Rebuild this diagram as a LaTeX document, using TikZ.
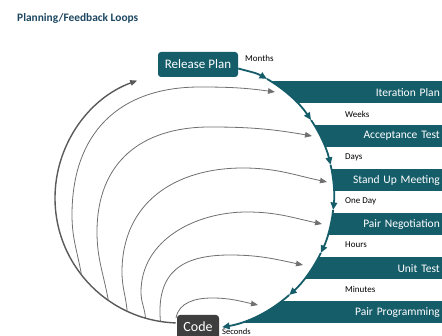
\documentclass[tikz,border=0pt]{standalone}
\usepackage{fontspec}
\setmainfont{Carlito}
\usetikzlibrary{arrows.meta,calc}
\definecolor{tealbar}{RGB}{22,93,106}
\definecolor{titleblue}{RGB}{30,72,98}
\definecolor{loopgray}{RGB}{112,112,112}
\definecolor{codegray}{RGB}{62,62,62}

\begin{document}
\begin{tikzpicture}[x=1pt,y=1pt,
  bar/.style={fill=tealbar, draw=none, text=white, anchor=north east,
    minimum width=242, minimum height=22, text width=238, align=right,
    inner xsep=2, inner ysep=0, font=\fontsize{11.5}{12}\selectfont},
  timetext/.style={anchor=west, inner sep=0pt, font=\fontsize{9}{10}\selectfont},
  loop/.style={draw=loopgray, line width=0.8pt, -{Triangle[length=7pt,width=5.5pt]}},
  outerloop/.style={loop, draw=loopgray!80!black, line width=1.4pt},
  flow/.style={draw=tealbar, line width=1.8pt, -{Triangle[length=7.5pt,width=6.5pt]}},
  stagebox/.style={rounded corners=3pt, text=white, inner sep=0pt},
]
\useasboundingbox (0,0) rectangle (442,-336);
\fill[white] (0,0) rectangle (442,-336);

% title
\node[anchor=base west, inner sep=0pt, text=titleblue,
      font=\bfseries\fontsize{11.4}{12}\selectfont] (title) at (17,-22) {Planning/Feedback Loops};

% stage bars on the right
\node[bar] (iter) at (442,-81)  {Iteration Plan};
\node[bar] (acc)  at (442,-125) {Acceptance Test};
\node[bar] (sum)  at (442,-169) {Stand Up Meeting};
\node[bar] (neg)  at (442,-213) {Pair Negotiation};
\node[bar] (unit) at (442,-257) {Unit Test};
\node[bar] (prog) at (442,-301) {Pair Programming};

% the round area that cuts the bars
\coordinate (c) at (200,-195);
\fill[white] (c) circle[radius=134];

% time scale labels
\node[timetext] (months)  at (245,-58)  {Months};
\node[timetext] (weeks)   at (345,-114) {Weeks};
\node[timetext] (days)    at (345,-157) {Days};
\node[timetext] (oneday)  at (345,-201) {One Day};
\node[timetext] (hours)   at (345,-245) {Hours};
\node[timetext] (minutes) at (345,-289) {Minutes};
\node[timetext, font=\fontsize{8.5}{9}\selectfont] (seconds) at (222,-331.5) {Seconds};

% feedback loops: one outer circle arc, inner loops branch off it
\coordinate (oc) at (180,-198);
\coordinate (s0) at ($(oc)+(-92:125)$);
\coordinate (b2) at ($(oc)+(-142:125)$);
\coordinate (b3) at ($(oc)+(-125:125)$);
\coordinate (b4) at ($(oc)+(-115:125)$);
\coordinate (b5) at ($(oc)+(-106:125)$);
\coordinate (b6) at ($(oc)+(-99:125)$);
\coordinate (e2) at (275,-92);
\coordinate (e3) at (312,-136);
\coordinate (e4) at (327,-182);
\coordinate (e5) at (322,-224);
\coordinate (e6) at (303,-265);
\coordinate (e7) at (258,-305);
\coordinate (c7) at (176,-318);

\draw[outerloop] (s0) arc[start angle=-92, end angle=-250, radius=125];
\draw[loop] (b2) to[out=100,in=270] (72,-215)
  to[out=90,in=180,looseness=1.15] (200,-87) to[out=0,in=172] (e2);
\draw[loop] (b3) to[out=100,in=270] (97,-232)
  to[out=90,in=180,looseness=1.15] (210,-127) to[out=0,in=170] (e3);
\draw[loop] (b4) to[out=95,in=270] (122,-272)
  to[out=90,in=180,looseness=1.1] (243,-168) to[out=0,in=168] (e4);
\draw[loop] (b5) to[out=95,in=270] (141,-292)
  to[out=90,in=180] (247,-212) to[out=0,in=168] (e5);
\draw[loop] (b6) to[out=95,in=180,looseness=1.3] (230,-255)
  to[out=0,in=168] (e6);
\draw[loop] (c7) to[out=80,in=180] (212,-298) to[out=0,in=168] (e7);

% boxes
\node[stagebox, fill=tealbar, minimum width=80, minimum height=25,
      font=\fontsize{13}{14}\selectfont] (rp) at (198,-64.5) {Release Plan};
\node[stagebox, fill=codegray, minimum width=42, minimum height=24,
      font=\fontsize{14}{15}\selectfont] (code) at (198,-327) {Code};

% planning flow along the rim
\coordinate (t1) at ($(c)+(60:134)$);
\coordinate (t2) at ($(c)+(34:134)$);
\coordinate (t3) at ($(c)+(13:134)$);
\coordinate (t4) at ($(c)+(-6.4:134)$);
\coordinate (t5) at ($(c)+(-25.6:134)$);
\coordinate (t6) at ($(c)+(-48.3:134)$);
\draw[flow] ([yshift=-4pt]rp.east) to[out=-15,in=150] (t1);
\draw[flow] (t1) arc[start angle=60, end angle=34, radius=134];
\draw[flow] (t2) arc[start angle=34, end angle=13, radius=134];
\draw[flow] (t3) arc[start angle=13, end angle=-6.4, radius=134];
\draw[flow] (t4) arc[start angle=-6.4, end angle=-25.6, radius=134];
\draw[flow] (t5) arc[start angle=-25.6, end angle=-48.3, radius=134];
\draw[flow] (t6) arc[start angle=-48.3, end angle=-80.5, radius=134];
\end{tikzpicture}
\end{document}
